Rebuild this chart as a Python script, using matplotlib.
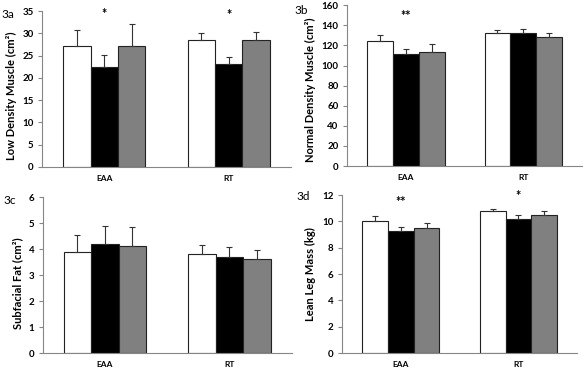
import matplotlib.pyplot as plt
import numpy as np

plt.rcParams['font.family'] = ['Lato', 'DejaVu Sans']

groups = ['EAA', 'RT']
bar_colors = ['white', 'black', '#808080']

# means and upper SD per panel: rows = groups, cols = bars
low_mean = [[27.1, 22.4, 27.2], [28.5, 23.1, 28.6]]
low_err = [[3.6, 2.7, 4.8], [1.5, 1.6, 1.8]]
norm_mean = [[124, 111, 113], [132, 132, 128]]
norm_err = [[6, 5, 8], [3, 4, 4]]
fat_mean = [[3.9, 4.2, 4.1], [3.8, 3.7, 3.6]]
fat_err = [[0.63, 0.7, 0.73], [0.35, 0.38, 0.35]]
leg_mean = [[10.0, 9.25, 9.5], [10.75, 10.2, 10.5]]
leg_err = [[0.4, 0.35, 0.35], [0.2, 0.25, 0.25]]

panels = [
    ('3a', 'Low Density Muscle (cm²)', low_mean, low_err, 35, 5,
     [0.0714, 0.5535, 0.4235, 0.417], [(0, '*', 34.3), (1, '*', 34.0)], (8, 15), 0.46),
    ('3b', 'Normal Density Muscle (cm²)', norm_mean, norm_err, 160, 20,
     [0.590, 0.556, 0.400, 0.430], [(0, '**', 149)], (301, 11), 0.475),
    ('3c', 'Subfacial Fat (cm²)', fat_mean, fat_err, 6, 1,
     [0.0723, 0.0561, 0.424, 0.417], [], (10, 200), 0.45),
    ('3d', 'Lean Leg Mass (kg)', leg_mean, leg_err, 12, 2,
     [0.581, 0.0561, 0.401, 0.4225], [(0, '**', 11.5), (1, '*', 11.9)], (303, 197), 0.5),
]

fig = plt.figure(figsize=(5.88, 3.74), dpi=100)
width = 0.22
x = np.arange(len(groups)) + 0.5

for tag, ylab, mean, err, ymax, step, rect, stars, tagpos, laby in panels:
    ax = fig.add_axes(rect)
    mean = np.array(mean)
    err = np.array(err)
    for i in range(3):
        pos = x + (i - 1) * width
        ax.bar(pos, mean[:, i], width, color=bar_colors[i], edgecolor='#222222',
               linewidth=0.8, zorder=2)
        ax.errorbar(pos, mean[:, i], yerr=[np.zeros(2), err[:, i]], fmt='none',
                    ecolor='#333333', elinewidth=0.8, capsize=2, capthick=0.8, zorder=3)
    ax.set_xlim(0, 2)
    ax.set_ylim(0, ymax)
    ax.set_yticks(np.arange(0, ymax + step / 2, step))
    ax.set_xticks(x)
    ax.set_xticklabels(groups, fontsize=6, fontweight='bold')
    ax.tick_params(axis='x', length=0, pad=6)
    ax.tick_params(axis='y', length=3, width=0.8, color='#868686', labelsize=7, pad=3)
    for lab in ax.get_yticklabels():
        lab.set_fontweight('bold')
    for s in ['top', 'right']:
        ax.spines[s].set_visible(False)
    for s in ['left', 'bottom']:
        ax.spines[s].set_color('#868686')
        ax.spines[s].set_linewidth(0.8)
    ax.set_ylabel(ylab, fontsize=8, fontweight='bold', labelpad=4)
    ax.yaxis.label.set_y(laby)
    for g, s, yv in stars:
        ax.text(x[g], yv, s, ha='center', va='center', fontsize=9, fontweight='bold')
    fig.text(tagpos[0] / 588, 1 - tagpos[1] / 374, tag, ha='center', va='center',
             fontsize=8.5)

plt.savefig('out.png', dpi=100)
